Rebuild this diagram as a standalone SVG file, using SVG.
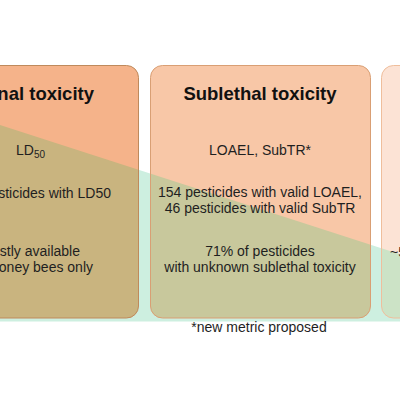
<svg xmlns="http://www.w3.org/2000/svg" width="400" height="400" viewBox="0 0 400 400">
<style>
text{font-family:"Liberation Sans",Arial,sans-serif;fill:#1f1f1f;font-size:14px}
.t{font-size:18.5px;font-weight:bold;fill:#111}
.c{text-anchor:middle}
.e{text-anchor:end}
.sub{font-size:10px}
</style>
<defs>
<clipPath id="low"><polygon points="0,125 400,254.2 400,400 0,400"/></clipPath>
</defs>
<rect width="400" height="400" fill="#ffffff"/>
<polygon id="bg-band" points="0,125 400,254.2 400,321.5 0,321.5" fill="#cdefe0"/>
<g id="lethal">
<rect x="-81.5" y="65.5" width="220" height="252.5" rx="12" fill="#f5b38a"/>
<rect x="-81.5" y="65.5" width="220" height="252.5" rx="12" fill="#c9b47f" clip-path="url(#low)"/>
<rect x="-81.5" y="65.5" width="220" height="252.5" rx="12" fill="none" stroke="#bf8a5c" stroke-width="1"/>
<text class="t e" x="94" y="100">nal toxicity</text>
<text x="16" y="155">LD<tspan class="sub" dy="3">50</tspan></text>
<text class="e" x="111" y="198">sticides with LD50</text>
<text class="e" x="80" y="256">stly available</text>
<text class="e" x="93" y="272">oney bees only</text>
</g>
<g id="sublethal">
<rect x="150.5" y="65.5" width="220" height="252.5" rx="12" fill="#f8c7a7"/>
<rect x="150.5" y="65.5" width="220" height="252.5" rx="12" fill="#c8c89c" clip-path="url(#low)"/>
<rect x="150.5" y="65.5" width="220" height="252.5" rx="12" fill="none" stroke="#d99f74" stroke-width="1"/>
<text class="t c" x="260" y="100">Sublethal toxicity</text>
<text class="c" x="260" y="155">LOAEL, SubTR*</text>
<text class="c" x="260" y="197">154 pesticides with valid LOAEL,</text>
<text class="c" x="260" y="213">46 pesticides with valid SubTR</text>
<text class="c" x="260" y="256">71% of pesticides</text>
<text class="c" x="260" y="272">with unknown sublethal toxicity</text>
</g>
<g id="third">
<rect x="381.5" y="65.5" width="220" height="252.5" rx="12" fill="#fce3d5"/>
<rect x="381.5" y="65.5" width="220" height="252.5" rx="12" fill="#cce3c6" clip-path="url(#low)"/>
<rect x="381.5" y="65.5" width="220" height="252.5" rx="12" fill="none" stroke="#efbe9c" stroke-width="1"/>
<text x="390" y="257">~5</text>
</g>
<g id="connectors"></g>
<text id="footnote" class="c" x="259" y="332">*new metric proposed</text>
</svg>
